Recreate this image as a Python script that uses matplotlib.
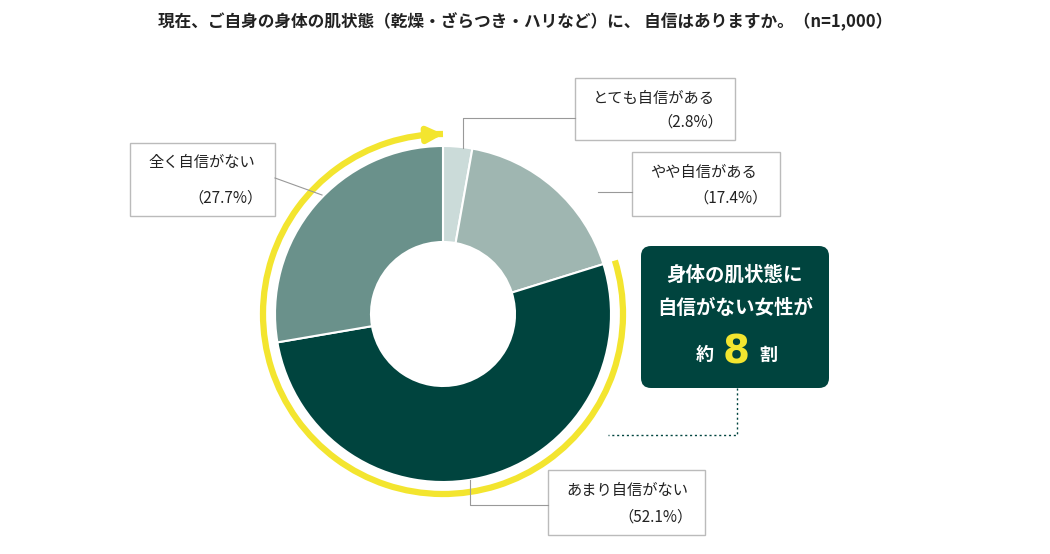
import matplotlib
matplotlib.use("Agg")
import matplotlib.pyplot as plt
from matplotlib.patches import FancyBboxPatch, Arc, Rectangle
import numpy as np

plt.rcParams['font.family'] = ['Noto Sans CJK JP', 'DejaVu Sans']

title = "現在、ご自身の身体の肌状態（乾燥・ざらつき・ハリなど）に、 自信はありますか。（n=1,000）"
categories = ["とても自信がある", "やや自信がある", "あまり自信がない", "全く自信がない"]
values = [2.8, 17.4, 52.1, 27.7]
colors = ["#cbdbd9", "#9fb6b1", "#00443e", "#6a918b"]

W, H = 1050, 554
fig = plt.figure(figsize=(W/100, H/100), dpi=100)
ax = fig.add_axes([0, 0, 1, 1])
ax.set_xlim(0, W); ax.set_ylim(0, H); ax.set_aspect('equal'); ax.axis('off')
Y = lambda y: H - y

cx, cy, R = 443, Y(314), 168
ax.pie(values, colors=colors, startangle=90, counterclock=False, center=(cx, cy), radius=R,
       wedgeprops=dict(width=96, edgecolor='white', linewidth=1.5), frame=True)
ax.set_xlim(0, W); ax.set_ylim(0, H); ax.axis('off')

# yellow arc
start = 90 - 360 * (values[0] + values[1]) / 100
ra = 180
ax.add_patch(Arc((cx, cy), 2*ra, 2*ra, theta1=90, theta2=start + 360, color='#f3e52f', lw=4.5))
ax.annotate("", xy=(cx + 3, cy + ra), xytext=(cx - 20, cy + ra - 1),
            arrowprops=dict(arrowstyle='-|>', color='#f3e52f', lw=4.5, mutation_scale=22))

ax.text(525, Y(22), title, ha='center', va='center', fontsize=12, fontweight='bold', color='#222')

def box(x0, y0, x1, y1, cat, val):
    ax.add_patch(Rectangle((x0, Y(y1)), x1-x0, y1-y0, fc='white', ec='#bbbbbb', lw=1))
    ax.text(x0 + 18, Y(y0 + 20), cat, ha='left', va='center', fontsize=11, color='#222')
    ax.text(x1 - 12, Y(y1 - 18), f"（{val}%）", ha='right', va='center', fontsize=11, color='#222')

box(575, 78, 735, 140, categories[0], values[0])
box(632, 152, 780, 216, categories[1], values[1])
box(548, 470, 705, 535, categories[2], values[2])
box(130, 143, 275, 216, categories[3], values[3])

lc = '#999999'
ax.plot([463, 463, 575], [Y(148), Y(118), Y(118)], color=lc, lw=0.8)
ax.plot([598, 632], [Y(192), Y(192)], color=lc, lw=0.8)
ax.plot([470, 470, 548], [Y(480), Y(505), Y(505)], color=lc, lw=0.8)
ax.plot([275, 322], [Y(178), Y(195)], color=lc, lw=0.8)

# callout
ax.add_patch(FancyBboxPatch((641, Y(388)), 188, 142, boxstyle="round,pad=0,rounding_size=10",
                            fc='#00443e', ec='none'))
ax.text(735, Y(275), "身体の肌状態に", ha='center', va='center', fontsize=14, color='white', fontweight='bold')
ax.text(735, Y(308), "自信がない女性が", ha='center', va='center', fontsize=14, color='white', fontweight='bold')
ax.text(705, Y(355), "約", ha='center', va='center', fontsize=13, color='white', fontweight='bold')
ax.text(736, Y(352), "8", ha='center', va='center', fontsize=28, color='#f3e52f', fontweight='bold',
        family=['DejaVu Sans'])
ax.text(768, Y(355), "割", ha='center', va='center', fontsize=13, color='white', fontweight='bold')
ax.plot([737, 737, 608], [Y(388), Y(435), Y(435)], color='#00443e', lw=1, ls=(0, (1.5, 2)))

fig.savefig("out.png", dpi=100)
